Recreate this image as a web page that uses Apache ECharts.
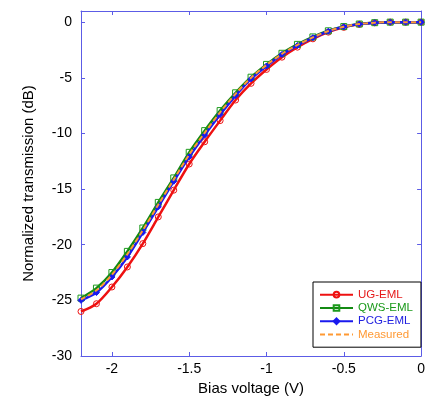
<!DOCTYPE html>
<html><head><meta charset="utf-8">
<script src="https://cdn.jsdelivr.net/npm/echarts@6/dist/echarts.min.js"></script>
<style>html,body{margin:0;padding:0;background:#fff}#c{width:428px;height:408px}</style>
</head><body><div id="c"></div>
<script>
var biasV = [-2.2,-2.1,-2.0,-1.9,-1.8,-1.7,-1.6,-1.5,-1.4,-1.3,-1.2,-1.1,-1.0,-0.9,-0.8,-0.7,-0.6,-0.5,-0.4,-0.3,-0.2,-0.1,0];
var ugEML  = [-26.0,-25.3,-23.8,-22.0,-19.9,-17.5,-15.1,-12.75,-10.75,-8.85,-7.0,-5.5,-4.25,-3.15,-2.25,-1.5,-0.9,-0.47,-0.2,-0.06,0,0,0];
var qwsEML = [-24.8,-23.9,-22.5,-20.6,-18.5,-16.2,-14.0,-11.7,-9.75,-7.95,-6.35,-4.95,-3.8,-2.8,-2.0,-1.33,-0.78,-0.4,-0.17,-0.05,0,0,0];
var pcgEML = [-25.0,-24.3,-22.9,-21.1,-18.9,-16.6,-14.3,-12.1,-10.15,-8.3,-6.6,-5.1,-3.95,-2.9,-2.1,-1.4,-0.82,-0.42,-0.18,-0.05,0,0,0];
var measured = [-24.9,-24.1,-22.7,-20.85,-18.7,-16.4,-14.15,-11.9,-9.95,-8.1,-6.45,-5.0,-3.85,-2.85,-2.05,-1.37,-0.8,-0.41,-0.17,-0.05,0,0,0];
var xTicks = [-2,-1.5,-1,-0.5,0];
var yTicks = [0,-5,-10,-15,-20,-25,-30];
var seriesNames = ['UG-EML','QWS-EML','PCG-EML','Measured'];

function pairs(ys){ return biasV.map(function(x,i){ return [x, ys[i]]; }); }
var axisCol = '#5c5ce6';
var font = 'Liberation Sans, Arial, sans-serif';
var chart = echarts.init(document.getElementById('c'));
chart.setOption({
  animation: false,
  backgroundColor: '#fff',
  grid: {left: 81, right: 3, top: 11, bottom: 52, containLabel: false},
  xAxis: [{
    type: 'value', min: -2.2, max: 0, position: 'bottom',
    name: 'Bias voltage (V)', nameLocation: 'middle', nameGap: 22,
    nameTextStyle: {fontFamily: font, fontSize: 15, color: '#000'},
    axisLine: {show: true, onZero: false, lineStyle: {color: axisCol, width: 1}},
    axisTick: {show: true, inside: true, length: 4, customValues: xTicks, lineStyle: {color: axisCol}},
    axisLabel: {customValues: xTicks, fontFamily: font, fontSize: 14, color: '#000', margin: 6,
      formatter: function(v){ return String(v); }},
    splitLine: {show: false}
  },{
    type: 'value', min: -2.2, max: 0, position: 'top',
    axisLine: {show: true, onZero: false, lineStyle: {color: axisCol, width: 1}},
    axisTick: {show: true, inside: true, length: 4, customValues: xTicks, lineStyle: {color: axisCol}},
    axisLabel: {show: false}, splitLine: {show: false}
  }],
  yAxis: [{
    type: 'value', min: -30, max: 1, position: 'left',
    name: 'Normalized transmission (dB)', nameLocation: 'middle', nameGap: 45, nameRotate: 90,
    nameTextStyle: {fontFamily: font, fontSize: 15, color: '#000'},
    axisLine: {show: true, onZero: false, lineStyle: {color: axisCol, width: 1}},
    axisTick: {show: true, inside: true, length: 4, customValues: yTicks, lineStyle: {color: axisCol}},
    axisLabel: {customValues: yTicks, fontFamily: font, fontSize: 14, color: '#000', margin: 9},
    splitLine: {show: false}
  },{
    type: 'value', min: -30, max: 1, position: 'right',
    axisLine: {show: true, onZero: false, lineStyle: {color: axisCol, width: 1}},
    axisTick: {show: true, inside: true, length: 4, customValues: yTicks, lineStyle: {color: axisCol}},
    axisLabel: {show: false}, splitLine: {show: false}
  }],
  legend: {
    orient: 'vertical', left: 313, top: 282, width: 106,
    backgroundColor: '#fff', borderColor: '#000', borderWidth: 1, borderRadius: 0,
    padding: [6, 8, 6, 6], itemGap: 0, itemWidth: 33, itemHeight: 7,
    textStyle: {fontFamily: font, fontSize: 11.5, lineHeight: 13.3},
    data: [
      {name: seriesNames[0], textStyle: {color: '#e61a1a'}},
      {name: seriesNames[1], textStyle: {color: '#1a9a1a'}},
      {name: seriesNames[2], textStyle: {color: '#2020e0'}},
      {name: seriesNames[3], textStyle: {color: '#ff9933'},
       itemStyle: {color: 'rgba(0,0,0,0)', borderColor: 'rgba(0,0,0,0)', borderWidth: 0}}
    ]
  },
  series: [
    {name: seriesNames[0], type: 'line', data: pairs(ugEML), smooth: 0.3,
     symbol: 'circle', symbolSize: 6, showAllSymbol: true,
     itemStyle: {color: 'rgba(255,255,255,0)', borderColor: '#ee1111', borderWidth: 1},
     lineStyle: {color: '#ee1111', width: 2.5}, z: 2},
    {name: seriesNames[1], type: 'line', data: pairs(qwsEML), smooth: 0.3,
     symbol: 'rect', symbolSize: 6, showAllSymbol: true,
     itemStyle: {color: 'rgba(255,255,255,0)', borderColor: '#1c9a1c', borderWidth: 1},
     lineStyle: {color: '#138a13', width: 2.5}, z: 3},
    {name: seriesNames[2], type: 'line', data: pairs(pcgEML), smooth: 0.3,
     symbol: 'diamond', symbolSize: 6, showAllSymbol: true,
     itemStyle: {color: '#1a1aee', borderColor: '#1a1aee', borderWidth: 1},
     lineStyle: {color: '#1a1aee', width: 2.5}, z: 4},
    {name: seriesNames[3], type: 'line', data: pairs(measured), smooth: 0.3,
     symbol: 'none',
     itemStyle: {color: '#ff9933'},
     lineStyle: {color: '#ff9933', width: 2, type: [5, 3]}, z: 5}
  ]
});
</script></body></html>
